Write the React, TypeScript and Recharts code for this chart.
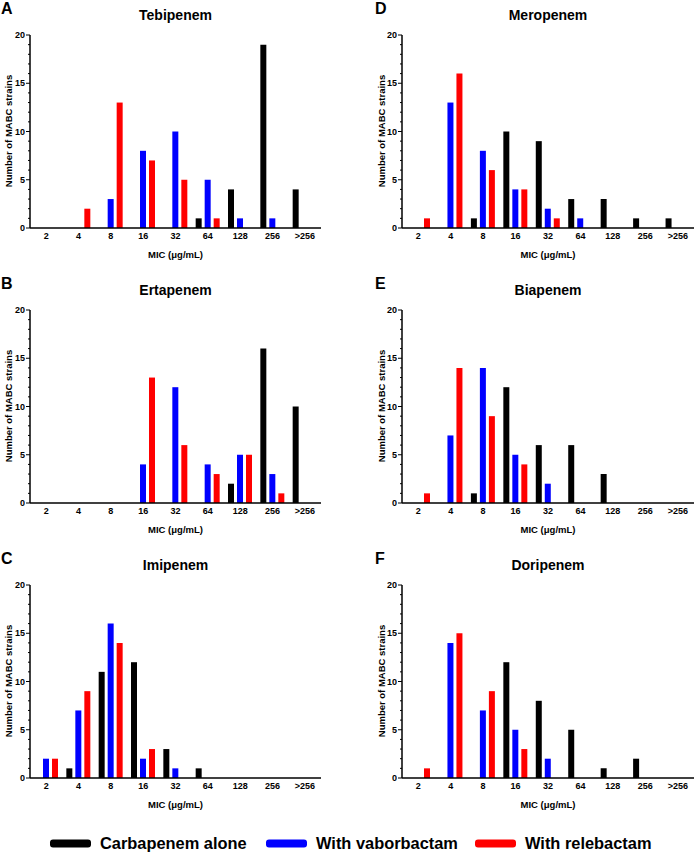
import { BarChart, Bar, XAxis, YAxis } from "recharts";

const mics = ["2", "4", "8", "16", "32", "64", "128", "256", ">256"];
const yTicks = [0, 1, 2, 3, 4, 5, 6, 7, 8, 9, 10, 11, 12, 13, 14, 15, 16, 17, 18, 19, 20];

// Tebipenem
const tebAlone = [0, 0, 0, 0, 0, 1, 4, 19, 4];
const tebVabor = [0, 0, 3, 8, 10, 5, 1, 1, 0];
const tebRele = [0, 2, 13, 7, 5, 1, 0, 0, 0];
// Ertapenem
const ertAlone = [0, 0, 0, 0, 0, 0, 2, 16, 10];
const ertVabor = [0, 0, 0, 4, 12, 4, 5, 3, 0];
const ertRele = [0, 0, 0, 13, 6, 3, 5, 1, 0];
// Imipenem
const imiAlone = [0, 1, 11, 12, 3, 1, 0, 0, 0];
const imiVabor = [2, 7, 16, 2, 1, 0, 0, 0, 0];
const imiRele = [2, 9, 14, 3, 0, 0, 0, 0, 0];
// Meropenem
const merAlone = [0, 0, 1, 10, 9, 3, 3, 1, 1];
const merVabor = [0, 13, 8, 4, 2, 1, 0, 0, 0];
const merRele = [1, 16, 6, 4, 1, 0, 0, 0, 0];
// Biapenem
const biaAlone = [0, 0, 1, 12, 6, 6, 3, 0, 0];
const biaVabor = [0, 7, 14, 5, 2, 0, 0, 0, 0];
const biaRele = [1, 14, 9, 4, 0, 0, 0, 0, 0];
// Doripenem
const dorAlone = [0, 0, 0, 12, 8, 5, 1, 2, 0];
const dorVabor = [0, 14, 7, 5, 2, 0, 0, 0, 0];
const dorRele = [1, 15, 9, 3, 0, 0, 0, 0, 0];

const FONT = "'Liberation Sans', Arial, sans-serif";
const BLACK = "#000000";
const BLUE = "#0000ff";
const RED = "#ff0000";

const YTick = (props: any) => {
  const { x, y, payload } = props;
  const major = payload.value % 5 === 0;
  return (
    <g>
      <line x1={x} x2={x - (major ? 4 : 2)} y1={y} y2={y} stroke="#000" strokeWidth={1} />
      {major && (
        <text x={x - 5} y={y} dy="0.35em" textAnchor="end" fontSize={9} fontWeight="bold" fill="#000" fontFamily={FONT}>
          {payload.value}
        </text>
      )}
    </g>
  );
};

interface PanelProps {
  letter: string;
  title: string;
  alone: number[];
  vabor: number[];
  rele: number[];
  left: number;
  top: number;
  right?: boolean;
}

const Panel = ({ letter, title, alone, vabor, rele, left, top, right }: PanelProps) => {
  const data = mics.map((m, i) => ({ mic: m, alone: alone[i], vabor: vabor[i], rele: rele[i] }));
  const ml = right ? 24 : 0;
  const mr = right ? 2 : 27;
  const plotCx = right ? 54 + (346 - 54) / 2 : 30 + (321 - 30) / 2;
  const yLabelX = right ? 33 : 8;
  const letterX = right ? 27 : 1;

  const abs = (x: number, y: number): React.CSSProperties => ({
    position: "absolute",
    left: x,
    top: y,
    transform: "translate(-50%, -50%)",
    whiteSpace: "nowrap",
    fontWeight: "bold",
    color: "#000",
  });

  return (
    <div style={{ position: "absolute", left, top, width: 348, height: 275 }}>
      <BarChart
        width={348}
        height={260}
        data={data}
        margin={{ top: 35, right: mr, bottom: 12, left: ml }}
        barSize={6}
        barGap={3}
      >
        <XAxis
          dataKey="mic"
          interval={0}
          tickLine={false}
          tickSize={3}
          tickMargin={2}
          height={20}
          axisLine={{ stroke: "#000", strokeWidth: 1.5 }}
          tick={{ fontSize: 9, fontWeight: "bold", fill: "#000", fontFamily: FONT }}
        />
        <YAxis
          domain={[0, 20]}
          ticks={yTicks}
          interval={0}
          width={30}
          tickLine={false}
          tickSize={0}
          tickMargin={0}
          axisLine={{ stroke: "#000", strokeWidth: 1.5 }}
          tick={<YTick />}
        />
        <Bar dataKey="alone" fill={BLACK} isAnimationActive={false} />
        <Bar dataKey="vabor" fill={BLUE} isAnimationActive={false} />
        <Bar dataKey="rele" fill={RED} isAnimationActive={false} />
      </BarChart>
      <div style={{ ...abs(letterX, 9), transform: "translate(0, -50%)", fontSize: 16 }}>{letter}</div>
      <div style={{ ...abs(plotCx, 15), fontSize: 14 }}>{title}</div>
      <div style={{ ...abs(yLabelX, 131), transform: "translate(-50%, -50%) rotate(-90deg)", fontSize: 9.5 }}>
        Number of MABC strains
      </div>
      <div style={{ ...abs(plotCx, 254), fontSize: 9.5 }}>MIC (μg/mL)</div>
    </div>
  );
};

const legendItems = [
  { label: "Carbapenem alone", color: BLACK, x: 50 },
  { label: "With vaborbactam", color: BLUE, x: 266 },
  { label: "With relebactam", color: RED, x: 475 },
];

export default function App() {
  return (
    <div
      style={{
        position: "absolute",
        left: 0,
        top: 0,
        width: 696,
        height: 856,
        background: "#fff",
        fontFamily: FONT,
      }}
    >
      <Panel letter="A" title="Tebipenem" alone={tebAlone} vabor={tebVabor} rele={tebRele} left={0} top={0} />
      <Panel letter="B" title="Ertapenem" alone={ertAlone} vabor={ertVabor} rele={ertRele} left={0} top={275} />
      <Panel letter="C" title="Imipenem" alone={imiAlone} vabor={imiVabor} rele={imiRele} left={0} top={550} />
      <Panel letter="D" title="Meropenem" alone={merAlone} vabor={merVabor} rele={merRele} left={348} top={0} right />
      <Panel letter="E" title="Biapenem" alone={biaAlone} vabor={biaVabor} rele={biaRele} left={348} top={275} right />
      <Panel letter="F" title="Doripenem" alone={dorAlone} vabor={dorVabor} rele={dorRele} left={348} top={550} right />
      {legendItems.map((it) => (
        <div
          key={it.label}
          style={{
            position: "absolute",
            left: it.x,
            top: 843,
            transform: "translate(0, -50%)",
            display: "flex",
            alignItems: "center",
            whiteSpace: "nowrap",
          }}
        >
          <span style={{ display: "inline-block", width: 41, height: 8, borderRadius: 3, background: it.color }} />
          <span style={{ marginLeft: 9, fontSize: 16.4, fontWeight: "bold", color: "#000" }}>{it.label}</span>
        </div>
      ))}
    </div>
  );
}
